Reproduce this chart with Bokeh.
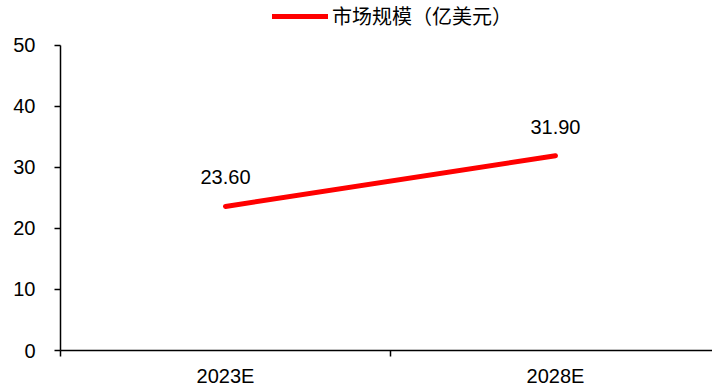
from bokeh.plotting import figure
from bokeh.models import Range1d, FixedTicker, Legend, LegendItem, ColumnDataSource
from bokeh.core.properties import value
from bokeh.embed import file_html
from bokeh.resources import INLINE

categories = ["2023E", "2028E"]
market_size = [23.60, 31.90]
series_name = "市场规模（亿美元）"
y_ticks = [0, 10, 20, 30, 40, 50]

FONT = "'Liberation Sans', 'Noto Sans CJK SC', sans-serif"

n = len(categories)
xs = [i + 0.5 for i in range(n)]
src = ColumnDataSource(dict(x=xs, y=market_size, lab=[f"{v:.2f}" for v in market_size]))

p = figure(width=712, height=389, output_backend="svg", toolbar_location=None,
           x_range=Range1d(0, 1.976), y_range=Range1d(0, 57.33),
           min_border_left=60, min_border_right=0, min_border_bottom=37, min_border_top=0)
p.outline_line_color = None
p.xgrid.visible = False
p.ygrid.visible = False
p.background_fill_color = "white"
p.border_fill_color = "white"

r = p.line("x", "y", source=src, line_width=5, line_color="#ff0000", line_cap="round")
p.text("x", "y", text="lab", source=src, text_align="center", text_baseline="middle",
       y_offset=-29, text_font_size="20px", text_font=value(FONT), text_color="#000000")

# x axis
xa = p.xaxis[0]
xa.ticker = FixedTicker(ticks=xs, minor_ticks=list(range(n + 1)))
xa.major_label_overrides = {x: c for x, c in zip(xs, categories)}
xa.major_tick_out = 0
xa.major_tick_in = 0
xa.minor_tick_out = 6
xa.minor_tick_in = 0
xa.minor_tick_line_color = "black"
xa.minor_tick_line_width = 1.5
xa.axis_line_width = 1.5
xa.axis_line_color = "black"
xa.major_label_standoff = 8
xa.major_label_text_font_size = "20px"
xa.major_label_text_font = FONT
xa.major_label_text_color = "#000000"

# y axis
ya = p.yaxis[0]
ya.ticker = FixedTicker(ticks=y_ticks)
ya.bounds = (0, 50)
ya.major_tick_out = 6
ya.major_tick_in = 0
ya.minor_tick_out = 0
ya.minor_tick_in = 0
ya.major_tick_line_width = 1.5
ya.axis_line_width = 1.5
ya.axis_line_color = "black"
ya.major_label_standoff = 19
ya.major_label_text_font_size = "20px"
ya.major_label_text_font = FONT
ya.major_label_text_color = "#000000"

legend = Legend(items=[LegendItem(label=series_name, renderers=[r])],
                orientation="horizontal", location=(212, 320),
                glyph_width=56, glyph_height=20, label_standoff=4,
                label_text_font_size="20px", label_text_font=FONT, label_text_color="#000000",
                padding=0, margin=0, border_line_alpha=0, background_fill_alpha=0,
                label_height=20, spacing=0)
p.add_layout(legend)

open("out.html", "w").write(file_html(p, INLINE))
